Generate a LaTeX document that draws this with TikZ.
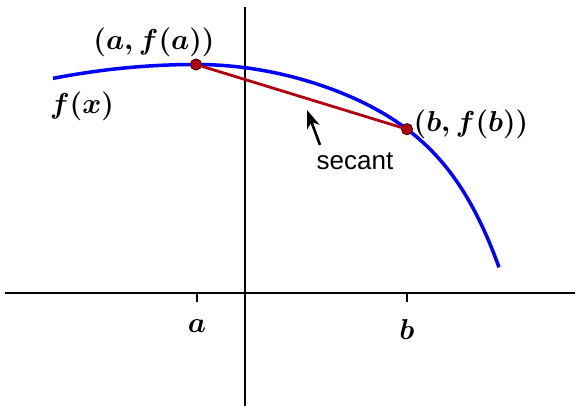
\documentclass[tikz,border=0pt]{standalone}
\usepackage{fontspec}
\usepackage{amsmath}
\usetikzlibrary{positioning,arrows.meta}
\newfontfamily\labelsans{Liberation Sans}
\definecolor{CurveBlue}{HTML}{0000FF}
\definecolor{SecRed}{HTML}{B00010}
\definecolor{DotEdge}{HTML}{5A0008}
\newcommand{\Lbl}{\fontsize{13.5}{16}\selectfont\boldmath}
\tikzset{
  axis/.style={line width=1.25pt, black},
  tick/.style={line width=1.25pt, black},
  curve/.style={line width=1.75pt, CurveBlue},
  secline/.style={line width=1.4pt, SecRed},
  dot/.style={circle, fill=SecRed, draw=DotEdge, line width=0.4pt, inner sep=0pt, minimum size=5.5pt},
  mlabel/.style={font=\Lbl, inner sep=1pt},
  pointer/.style={-{Stealth[length=9pt,width=6.5pt,inset=2.5pt]}, line width=1.3pt, black},
}

\begin{document}
\begin{tikzpicture}[x=0.5pt, y=-0.5pt]
  \useasboundingbox (0,0) rectangle (575,406);
  % axes
  \coordinate (xl) at (5,293);
  \coordinate (xr) at (575,293);
  \coordinate (yt) at (245,7);
  \coordinate (yb) at (245,406);
  \draw[axis] (xl) -- (xr);
  \draw[axis] (yt) -- (yb);
  % the function: flat to the left of a, falling fast to the right
  \draw[curve] plot[domain=53:196, samples=40] (\x, {64.5+13.7*((\x-196)/142)^2})
            -- plot[domain=196.5:499, samples=120] (\x, {64.5+121.9*((\x-196)/303)^2+81*((\x-196)/303)^7.4});
  % points on the curve and the secant
  \node[dot] (pa) at (196,64.5) {};
  \node[dot] (pb) at (407,129.2) {};
  \draw[secline] (pa) -- (pb);
  \node[dot] at (pa) {};
  \node[dot] at (pb) {};
  \node[mlabel] (pal) at (154,42) {$(a,f(a))$};
  \node[mlabel] (pbl) at (471,124) {$(b,f(b))$};
  \node[mlabel] (fx) at (82,106) {$f(x)$};
  % ticks
  \coordinate (ta) at (197,293);
  \coordinate (tb) at (407,293);
  \draw[tick] (ta) -- ++(0,9) node[mlabel, below=7pt] (al) {$a$};
  \draw[tick] (tb) -- ++(0,9) node[mlabel, below=7pt] (bl) {$b$};
  % label for the secant
  \node[font=\labelsans\fontsize{13}{15}\selectfont] (seclbl) at (355,161) {secant};
  \coordinate (arrtail) at (320,145);
  \coordinate (arrtip) at (307,110);
  \draw[pointer] (arrtail) -- (arrtip);
\end{tikzpicture}
\end{document}
